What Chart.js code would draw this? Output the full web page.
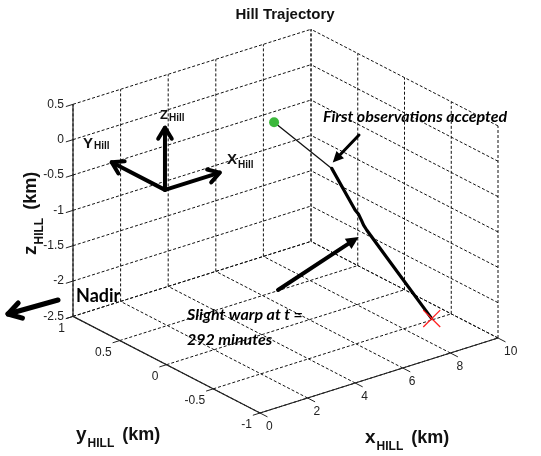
<!DOCTYPE html>
<html>
<head>
<meta charset="utf-8">
<script src="https://cdn.jsdelivr.net/npm/chart.js@4/dist/chart.umd.min.js"></script>
<style>
  html, body { margin: 0; padding: 0; background: #fff; }
  #wrap { width: 541px; height: 456px; }
</style>
</head>
<body>
<div id="wrap"><canvas id="c" width="541" height="456"></canvas></div>
<script>
// ---- Axis ticks (km) ----
const xTicks = [0, 2, 4, 6, 8, 10];
const yTicks = [-1, -0.5, 0, 0.5, 1];
const zTicks = [-2.5, -2, -1.5, -1, -0.5, 0, 0.5];
const xTickLabels = ['0', '2', '4', '6', '8', '10'];
const yTickLabels = ['-1', '-0.5', '0', '0.5', '1'];
const zTickLabels = ['-2.5', '-2', '-1.5', '-1', '-0.5', '0', '0.5'];

// ---- Relative trajectory in the Hill frame (km) ----
const trajX = [4.52, 6.55, 7.06, 7.16, 7.22, 7.26, 7.35, 8.03, 9.18];
const trajY = [0.00, -0.10, -0.22, -0.23, -0.25, -0.26, -0.27, -0.31, -0.50];
const trajZ = [0.45, -0.35, -0.91, -0.97, -1.06, -1.12, -1.19, -1.62, -2.48];
// first sample at which observations are accepted
const acceptIndex = 1;
// sample just after the warp at t = 292 min
const warpIndex = 6;

// ---- Hill frame triad drawn inside the box (km) ----
const triadOrigin = [1.90, 0.50, -0.57];
const triadLength = { x: 2.3, y: 0.57, z: 0.88 };

const xMin = 0, xMax = 10, yMin = -1, yMax = 1, zMin = -2.5, zMax = 0.5;
const W = 541, H = 456;

// Oblique 3D view: where the (xMin,yMin,zMin) corner lands and the step per km on each axis
const VIEW = { ox: 260, oy: 413, ex: [23.8, -7.5], ey: [-93.5, -48.3], ez: [0, -70.7] };
function proj(x, y, z) {
  const u = x - xMin, v = y - yMin, w = z - zMin;
  return {
    x: VIEW.ox + u * VIEW.ex[0] + v * VIEW.ey[0] + w * VIEW.ez[0],
    y: VIEW.oy + u * VIEW.ex[1] + v * VIEW.ey[1] + w * VIEW.ez[1]
  };
}
const GAP = { x: null, y: null };
function segments(list) {
  const out = [];
  list.forEach(([a, b]) => { out.push(proj(...a), proj(...b), GAP); });
  return out;
}

// Grid on the floor and the two back walls
const gridSegs = [];
xTicks.forEach(x => {
  gridSegs.push([[x, yMin, zMin], [x, yMax, zMin]]);
  gridSegs.push([[x, yMax, zMin], [x, yMax, zMax]]);
});
yTicks.forEach(y => {
  gridSegs.push([[xMin, y, zMin], [xMax, y, zMin]]);
  gridSegs.push([[xMax, y, zMin], [xMax, y, zMax]]);
});
zTicks.forEach(z => {
  gridSegs.push([[xMin, yMax, z], [xMax, yMax, z]]);
  gridSegs.push([[xMax, yMin, z], [xMax, yMax, z]]);
});

const axisSegs = [
  [[xMin, yMin, zMin], [xMax, yMin, zMin]],
  [[xMin, yMin, zMin], [xMin, yMax, zMin]],
  [[xMin, yMax, zMin], [xMin, yMax, zMax]]
];
const tickSegs = [];
xTicks.forEach(x => tickSegs.push([[x, yMin, zMin], [x, yMin - 0.08, zMin]]));
yTicks.forEach(y => tickSegs.push([[xMin, y, zMin], [xMin - 0.3, y, zMin]]));
zTicks.forEach(z => tickSegs.push([[xMin, yMax, z], [xMin - 0.3, yMax, z]]));

const trajPts = trajX.map((x, i) => proj(x, trajY[i], trajZ[i]));
const prePts = trajPts.slice(0, acceptIndex + 1);
const postPts = trajPts.slice(acceptIndex);
const last = trajPts.length - 1;

// ---- overlay: tick labels, axis titles, arrows, notes ----
function rich(ctx, parts, x, y, rot) {
  ctx.save();
  ctx.translate(x, y);
  if (rot) ctx.rotate(rot);
  ctx.textAlign = 'left';
  ctx.textBaseline = 'alphabetic';
  let cx = 0;
  parts.forEach(p => {
    ctx.font = p.font;
    ctx.fillText(p.t, cx, p.dy || 0);
    cx += ctx.measureText(p.t).width + (p.gap || 0);
  });
  ctx.restore();
}
function arrow(ctx, a, b, width, head, filled) {
  const ang = Math.atan2(b.y - a.y, b.x - a.x);
  const spread = filled ? 0.45 : 0.55;
  const l = { x: b.x - head * Math.cos(ang - spread), y: b.y - head * Math.sin(ang - spread) };
  const r = { x: b.x - head * Math.cos(ang + spread), y: b.y - head * Math.sin(ang + spread) };
  ctx.save();
  ctx.strokeStyle = '#000'; ctx.fillStyle = '#000';
  ctx.lineWidth = width; ctx.lineCap = 'round'; ctx.lineJoin = 'round';
  ctx.beginPath();
  const end = filled ? { x: b.x - head * 0.8 * Math.cos(ang), y: b.y - head * 0.8 * Math.sin(ang) } : b;
  ctx.moveTo(a.x, a.y); ctx.lineTo(end.x, end.y); ctx.stroke();
  ctx.beginPath();
  if (filled) {
    ctx.moveTo(b.x, b.y); ctx.lineTo(l.x, l.y); ctx.lineTo(r.x, r.y); ctx.closePath(); ctx.fill();
  } else {
    ctx.moveTo(l.x, l.y); ctx.lineTo(b.x, b.y); ctx.lineTo(r.x, r.y); ctx.stroke();
  }
  ctx.restore();
}

const overlay = {
  id: 'overlay',
  afterDatasetsDraw(chart) {
    const ctx = chart.ctx;
    const sx = chart.scales.x, sy = chart.scales.y;
    const px = p => ({ x: sx.getPixelForValue(p.x), y: sy.getPixelForValue(p.y) });
    const P = (x, y, z) => px(proj(x, y, z));

    ctx.save();
    ctx.fillStyle = '#222';
    ctx.font = '12px "Liberation Sans", Arial, sans-serif';
    ctx.textBaseline = 'middle';
    // x tick labels
    ctx.textAlign = 'left';
    xTicks.forEach((x, i) => { const p = P(x, yMin, zMin); ctx.fillText(xTickLabels[i], p.x + 6, p.y + 14); });
    // y tick labels
    ctx.textAlign = 'right';
    yTicks.forEach((y, i) => { const p = P(xMin, y, zMin); ctx.fillText(yTickLabels[i], p.x - 8, p.y + 12); });
    // z tick labels
    zTicks.forEach((z, i) => { const p = P(xMin, yMax, z); ctx.fillText(zTickLabels[i], p.x - 9, p.y); });

    // title
    ctx.fillStyle = '#111';
    ctx.textAlign = 'center';
    ctx.font = 'bold 15px "Liberation Sans", Arial, sans-serif';
    ctx.fillText('Hill Trajectory', 285, 15);
    ctx.restore();

    // axis titles
    ctx.save();
    ctx.fillStyle = '#111';
    const lead = 'bold 19px "Liberation Sans", Arial, sans-serif';
    const big = 'bold 18px "Liberation Sans", Arial, sans-serif';
    const sub = 'bold 12px "Liberation Sans", Arial, sans-serif';
    const axisTitle = s => [{ t: s, font: lead, gap: 1 }, { t: 'HILL', font: sub, dy: 7, gap: 3 }, { t: ' (km)', font: big }];
    rich(ctx, axisTitle('x'), 365, 443);
    rich(ctx, axisTitle('y'), 76, 440);
    rich(ctx, axisTitle('z'), 36, 255, -Math.PI / 2);
    ctx.restore();

    // Hill frame triad
    const o = P(...triadOrigin);
    const tx = P(triadOrigin[0] + triadLength.x, triadOrigin[1], triadOrigin[2]);
    const ty = P(triadOrigin[0], triadOrigin[1] + triadLength.y, triadOrigin[2]);
    const tz = P(triadOrigin[0], triadOrigin[1], triadOrigin[2] + triadLength.z);
    arrow(ctx, o, tx, 4, 13, false);
    arrow(ctx, o, ty, 4, 13, false);
    arrow(ctx, o, tz, 4, 13, false);
    ctx.save();
    ctx.fillStyle = '#111';
    const lab = size => 'bold ' + size + 'px "Liberation Sans", Arial, sans-serif';
    rich(ctx, [{ t: 'X', font: lab(15), gap: 1 }, { t: 'Hill', font: lab(10), dy: 4 }], 227, 164);
    rich(ctx, [{ t: 'Y', font: lab(15), gap: 1 }, { t: 'Hill', font: lab(10), dy: 1 }], 83, 148);
    rich(ctx, [{ t: 'Z', font: lab(13), gap: 1 }, { t: 'Hill', font: lab(10), dy: 2 }], 160, 119);
    ctx.restore();

    // Nadir direction
    arrow(ctx, px({ x: 58, y: 300 }), px({ x: 8, y: 314 }), 5, 15, false);

    // notes pointing at the trajectory
    const accPt = px(trajPts[acceptIndex]);
    arrow(ctx, px({ x: 359, y: 135 }), { x: accPt.x + 1, y: accPt.y - 6 }, 3, 12, true);
    const warpPt = px(trajPts[warpIndex]);
    arrow(ctx, px({ x: 278, y: 290 }), { x: warpPt.x - 8, y: warpPt.y + 7 }, 4, 14, true);

    ctx.save();
    ctx.fillStyle = '#000';
    ctx.textAlign = 'left';
    ctx.textBaseline = 'alphabetic';
    ctx.font = 'italic bold 16px Lato, "Open Sans", sans-serif';
    ctx.fillText('First observations accepted', 323, 122);
    ctx.fillText('Slight warp at t =', 187, 320);
    ctx.fillText('292 minutes', 187, 345);
    ctx.font = 'bold 18px Lato, "Open Sans", sans-serif';
    ctx.fillText('Nadir', 76, 302);
    ctx.restore();
  }
};

const line = (data, color, width, extra) => Object.assign({
  data, showLine: true, borderColor: color, borderWidth: width, pointRadius: 0,
  spanGaps: false, fill: false, tension: 0
}, extra || {});

new Chart(document.getElementById('c'), {
  type: 'scatter',
  data: {
    datasets: [
      { data: [trajPts[last]], pointStyle: 'crossRot', pointRadius: 12, borderColor: '#ff2020', borderWidth: 1.3, backgroundColor: 'transparent' },
      { data: [trajPts[0]], pointStyle: 'circle', pointRadius: 5, borderColor: '#3cb83c', backgroundColor: '#3cb83c', borderWidth: 0 },
      line(postPts, '#000', 3.2, { borderCapStyle: 'round', borderJoinStyle: 'round' }),
      line(prePts, '#111', 1.3),
      line(segments(tickSegs), '#222', 1),
      line(segments(axisSegs), '#222', 1.2),
      line(segments(gridSegs), '#111', 1, { borderDash: [3, 2] })
    ]
  },
  options: {
    responsive: false,
    animation: false,
    events: [],
    layout: { autoPadding: false, padding: 0 },
    plugins: { legend: { display: false }, tooltip: { enabled: false }, title: { display: false } },
    scales: {
      x: { type: 'linear', min: 0, max: W, display: false },
      y: { type: 'linear', min: 0, max: H, reverse: true, display: false }
    }
  },
  plugins: [overlay]
});
</script>
</body>
</html>
